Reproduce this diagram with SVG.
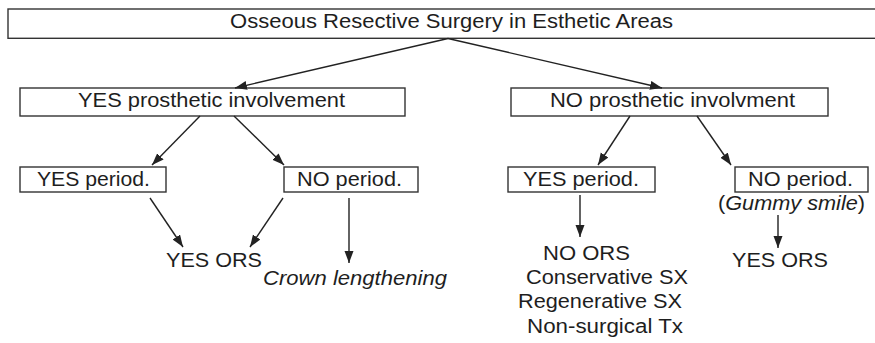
<svg xmlns="http://www.w3.org/2000/svg" width="875" height="343" viewBox="0 0 875 343">
<defs>
<marker id="ah" markerUnits="userSpaceOnUse" markerWidth="13" markerHeight="10" refX="12" refY="4.5" orient="auto">
<path d="M0,0 L12,4.5 L0,9 Z" fill="#222"/>
</marker>
<style>
.box{fill:#fff;stroke:#333;stroke-width:1.4}
.t{font-family:"Liberation Sans",Arial,sans-serif;font-size:19.5px;fill:#1e1e1e}
.i{font-style:italic}
.c{stroke:#222;stroke-width:1.4;fill:none;marker-end:url(#ah)}
</style>
</defs>
<rect width="875" height="343" fill="#fff"/>
<g id="n-top">
<rect class="box" x="8" y="9" width="880" height="29.3"/>
<text class="t" x="230" y="27.8" textLength="443" lengthAdjust="spacingAndGlyphs">Osseous Resective Surgery in Esthetic Areas</text>
</g>
<g id="n-yes-prost">
<rect class="box" x="20" y="88" width="385" height="28"/>
<text class="t" x="78" y="106.8" textLength="267" lengthAdjust="spacingAndGlyphs">YES prosthetic involvement</text>
</g>
<g id="n-no-prost">
<rect class="box" x="511" y="88" width="317" height="28"/>
<text class="t" x="550" y="106.8" textLength="245" lengthAdjust="spacingAndGlyphs">NO prosthetic involvment</text>
</g>
<g id="n-yes-period-l">
<rect class="box" x="20" y="167" width="146" height="25"/>
<text class="t" x="37" y="185.8" textLength="113" lengthAdjust="spacingAndGlyphs">YES period.</text>
</g>
<g id="n-no-period-l">
<rect class="box" x="284" y="167" width="134" height="25"/>
<text class="t" x="297" y="185.8" textLength="105" lengthAdjust="spacingAndGlyphs">NO period.</text>
</g>
<g id="n-yes-period-r">
<rect class="box" x="508" y="167" width="147" height="25"/>
<text class="t" x="523" y="185.8" textLength="116" lengthAdjust="spacingAndGlyphs">YES period.</text>
</g>
<g id="n-no-period-r">
<rect class="box" x="735" y="167" width="133" height="25"/>
<text class="t" x="748" y="185.8" textLength="105" lengthAdjust="spacingAndGlyphs">NO period.</text>
<text class="t" x="718" y="210" textLength="147" lengthAdjust="spacingAndGlyphs">(<tspan class="i">Gummy smile</tspan>)</text>
</g>
<g id="n-yes-ors-l">
<text class="t" x="166" y="266.7" textLength="96" lengthAdjust="spacingAndGlyphs">YES ORS</text>
</g>
<g id="n-crown">
<text class="t i" x="263" y="285" textLength="184" lengthAdjust="spacingAndGlyphs">Crown lengthening</text>
</g>
<g id="n-no-ors">
<text class="t" x="543" y="260" textLength="87" lengthAdjust="spacingAndGlyphs">NO ORS</text>
<text class="t" x="526" y="284" textLength="162" lengthAdjust="spacingAndGlyphs">Conservative SX</text>
<text class="t" x="518" y="308.3" textLength="164" lengthAdjust="spacingAndGlyphs">Regenerative SX</text>
<text class="t" x="527" y="333" textLength="156" lengthAdjust="spacingAndGlyphs">Non-surgical Tx</text>
</g>
<g id="n-yes-ors-r">
<text class="t" x="732" y="266.7" textLength="96" lengthAdjust="spacingAndGlyphs">YES ORS</text>
</g>
<g id="connectors">
<line class="c" x1="448" y1="38.5" x2="235" y2="88"/>
<line class="c" x1="448" y1="38.5" x2="662" y2="88"/>
<line class="c" x1="200" y1="116" x2="152" y2="165"/>
<line class="c" x1="234" y1="116" x2="284" y2="165"/>
<line class="c" x1="630" y1="116" x2="598" y2="165"/>
<line class="c" x1="697" y1="116" x2="731" y2="165"/>
<line class="c" x1="150" y1="198" x2="183" y2="247"/>
<line class="c" x1="283" y1="198" x2="250" y2="247"/>
<line class="c" x1="349" y1="198" x2="349" y2="263"/>
<line class="c" x1="580" y1="195" x2="580" y2="237"/>
<line class="c" x1="778" y1="215" x2="778" y2="248"/>
</g>
</svg>
